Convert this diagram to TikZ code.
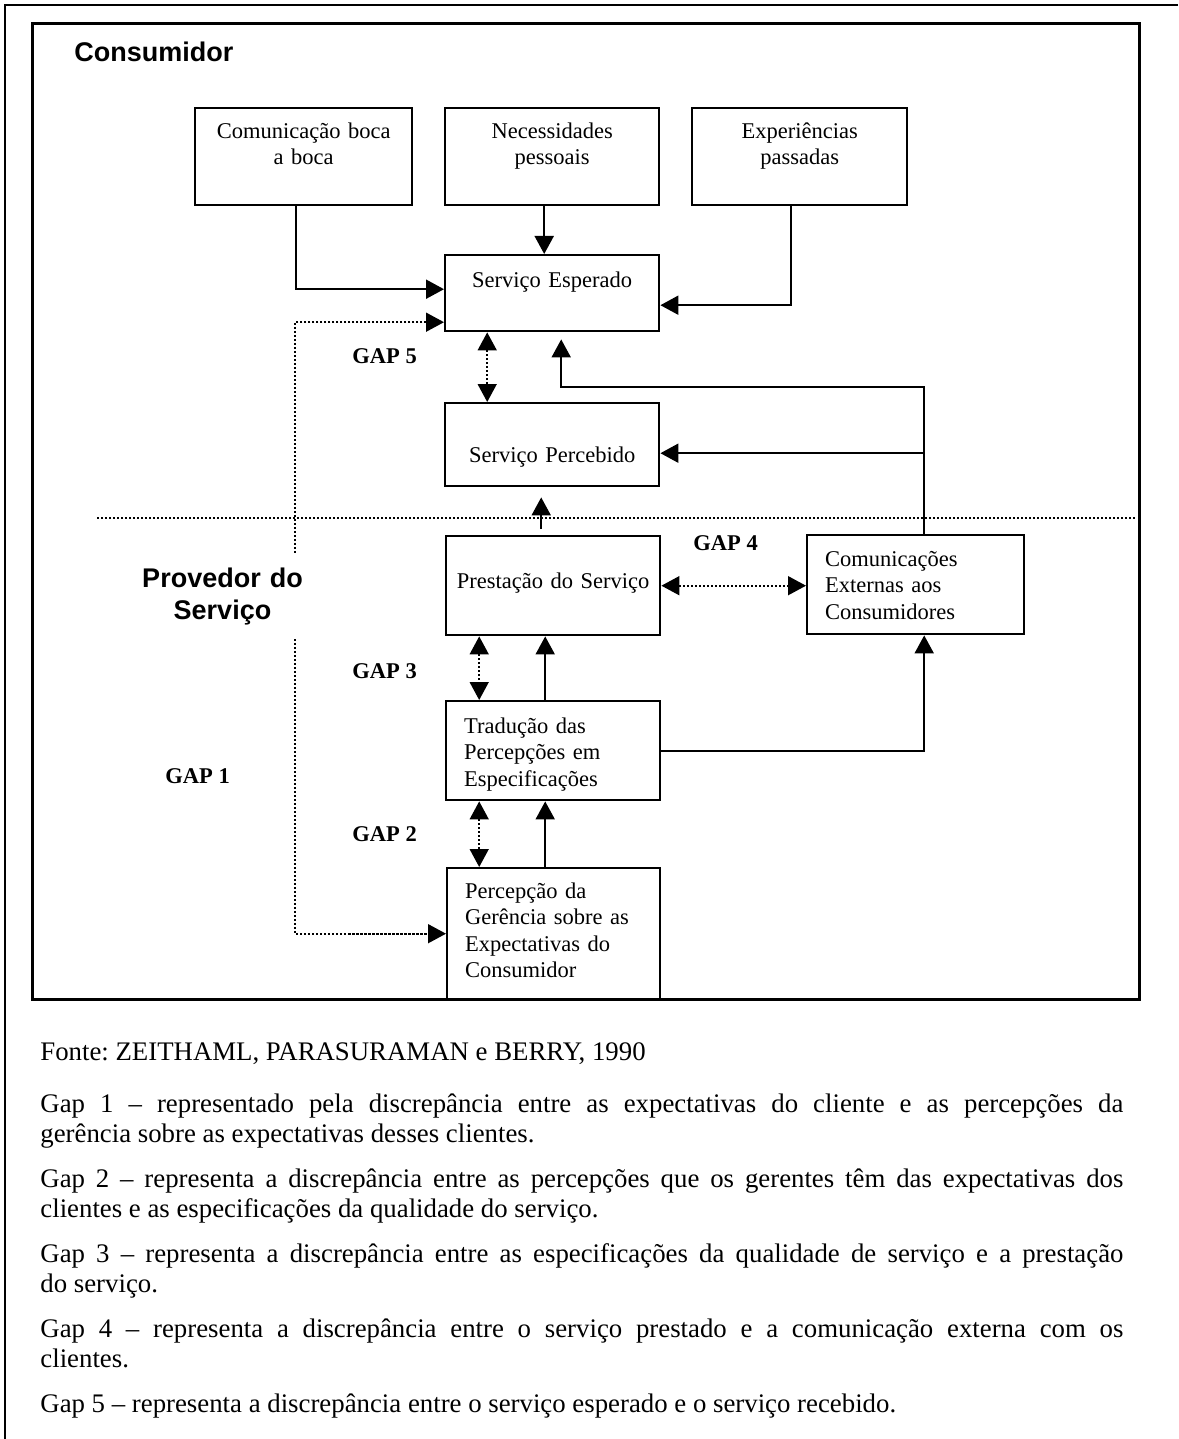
\documentclass[tikz,border=0pt]{standalone}
\usepackage{fontspec}
\setmainfont{Liberation Serif}
\newfontfamily\headfont{Liberation Sans}
\usetikzlibrary{arrows.meta}
\frenchspacing

\newcommand{\boxfont}{\fontsize{11.25}{13.25}\selectfont}
\newcommand{\bodyfont}{\fontsize{13.4}{15.4}\selectfont}

\begin{document}
\begin{tikzpicture}[
  x=0.5pt, y=-0.5pt,
  >={Triangle[length=9pt,width=9.5pt]},
  every node/.style={font=\boxfont},
  gapbox/.style={rectangle, draw, line width=1.2pt, anchor=north west,
    inner xsep=9pt, inner ysep=0pt, font=\boxfont},
  midbox/.style={gapbox, align=center},
  leftbox/.style={gapbox, align=left},
  arr/.style={line width=1pt, ->},
  gaparr/.style={line width=0.8pt, dash pattern=on 1.2pt off 0.8pt, <->},
  divider/.style={line width=0.8pt, dash pattern=on 1.2pt off 0.8pt},
  gaplabel/.style={font=\boxfont\bfseries, anchor=base west, inner sep=0pt},
  arealabel/.style={font=\fontsize{13.5}{16}\selectfont\headfont\bfseries,
    inner sep=0pt},
  bodytext/.style={font=\bodyfont, anchor=base west, inner sep=0pt,
    text width=541.5pt, align=justify},
]
\useasboundingbox (0,0) rectangle (1178,1439);

% Page border and diagram frame
\draw[line width=1pt] (1178,5) -- (5,5) -- (5,1439);
\draw[line width=1.5pt] (32,24) rectangle (1139,999);

% Consumer side
\node[arealabel, anchor=base west] (consumidor) at (74,62) {Consumidor};

\node[midbox, text width=90.5pt, text height=15pt, text depth=33.5pt] (boca)
  at (194,107) {Comunicação boca\\a boca};
\node[midbox, text width=89pt, text height=15pt, text depth=33.5pt] (necess)
  at (444,107) {Necessidades\\pessoais};
\node[midbox, text width=89.5pt, text height=15pt, text depth=33.5pt] (exper)
  at (691,107) {Experiências\\passadas};

\node[midbox, text width=89pt, text height=16pt, text depth=22pt] (esperado)
  at (444,254) {Serviço Esperado};
\node[midbox, text width=89pt, text height=29.5pt, text depth=12pt] (percebido)
  at (444,402) {Serviço Percebido};

% Divider between consumer and provider
\draw[divider] (97,518) -- (1136,518);

% Provider side
\node[midbox, inner xsep=4pt, text width=99pt, text height=26pt, text depth=23.5pt]
  (prestacao) at (445,535) {Prestação do Serviço};
\node[leftbox, text width=90.5pt, text height=15.5pt, text depth=34pt] (comext)
  at (806,534) {Comunicações\\Externas aos\\Consumidores};
\node[leftbox, text width=89pt, text height=16pt, text depth=33.5pt] (traducao)
  at (445,700) {Tradução das\\Percepções em\\Especificações};
\node[leftbox, text width=88.5pt, text height=15pt, text depth=50.5pt] (gerencia)
  at (446,867) {Percepção da\\Gerência sobre as\\Expectativas do\\Consumidor};

% Inputs to expected service
\draw[arr] ([xshift=-3.75pt]boca.south) |- ([yshift=2pt]esperado.west);
\draw[arr] ([xshift=-4pt]necess.south) -- ([xshift=-4pt]esperado.north);
\draw[arr] ([xshift=-4.25pt]exper.south) |- ([yshift=-6pt]esperado.east);

% External communications feed both services
\coordinate (riser) at ([xshift=4.25pt]comext.north);
\draw[arr, shorten >=3.5pt] (riser) -- ++(0pt,73.5pt)
  -| ([xshift=4.5pt]esperado.south);
\draw[arr] ([yshift=-4.25pt]percebido.east -| riser)
  -- ([yshift=-4.25pt]percebido.east);

% Delivery chain
\draw[arr, shorten <=3pt, shorten >=5pt] ([xshift=-6pt]prestacao.north)
  -- ([xshift=-6pt]prestacao.north |- percebido.south);
\draw[arr] ([xshift=-4pt]traducao.north) -- ([xshift=-4pt]prestacao.south);
\draw[arr] ([xshift=-4pt]traducao.south |- gerencia.north)
  -- ([xshift=-4pt]traducao.south);
\draw[arr] (traducao.east) -| (riser |- comext.south);

% Gaps
\draw[gaparr] ([yshift=-14.5pt]esperado.west) -- ++(-74.5pt,0pt) |- (gerencia.west);
\draw[gaparr] ([xshift=-32.5pt]esperado.south) -- ([xshift=-32.5pt]percebido.north);
\draw[gaparr] (prestacao.east) -- (prestacao.east -| comext.west);
\draw[gaparr] ([xshift=-37pt]prestacao.south) -- ([xshift=-37pt]traducao.north);
\draw[gaparr] ([xshift=-37pt]traducao.south)
  -- ([xshift=-37pt]traducao.south |- gerencia.north);

\node[arealabel, text width=95pt, align=center, anchor=base, fill=white,
  inner ysep=7pt] (provedor) at (222.5,587) {Provedor do\\Serviço};

\node[gaplabel] (gap5) at (352,363) {GAP 5};
\node[gaplabel] (gap4) at (693,550) {GAP 4};
\node[gaplabel] (gap3) at (352,678) {GAP 3};
\node[gaplabel] (gap2) at (352,841) {GAP 2};
\node[gaplabel] (gap1) at (165,783) {GAP 1};

% Source and gap descriptions
\node[bodytext] (fonte) at (40,1060) {Fonte: ZEITHAML, PARASURAMAN e BERRY, 1990};
\node[bodytext] (desc1) at (40,1112) {Gap 1 – representado pela discrepância entre
  as expectativas do cliente e as percepções da\linebreak gerência sobre as
  expectativas desses clientes.};
\node[bodytext] (desc2) at (40,1187) {Gap 2 – representa a discrepância entre as
  percepções que os gerentes têm das expectativas dos\linebreak clientes e as
  especificações da qualidade do serviço.};
\node[bodytext] (desc3) at (40,1262) {Gap 3 – representa a discrepância entre as
  especificações da qualidade de serviço e a prestação\linebreak do serviço.};
\node[bodytext] (desc4) at (40,1337) {Gap 4 – representa a discrepância entre o
  serviço prestado e a comunicação externa com os\linebreak clientes.};
\node[bodytext] (desc5) at (40,1412) {Gap 5 – representa a discrepância entre o
  serviço esperado e o serviço recebido.};

\end{tikzpicture}
\end{document}
